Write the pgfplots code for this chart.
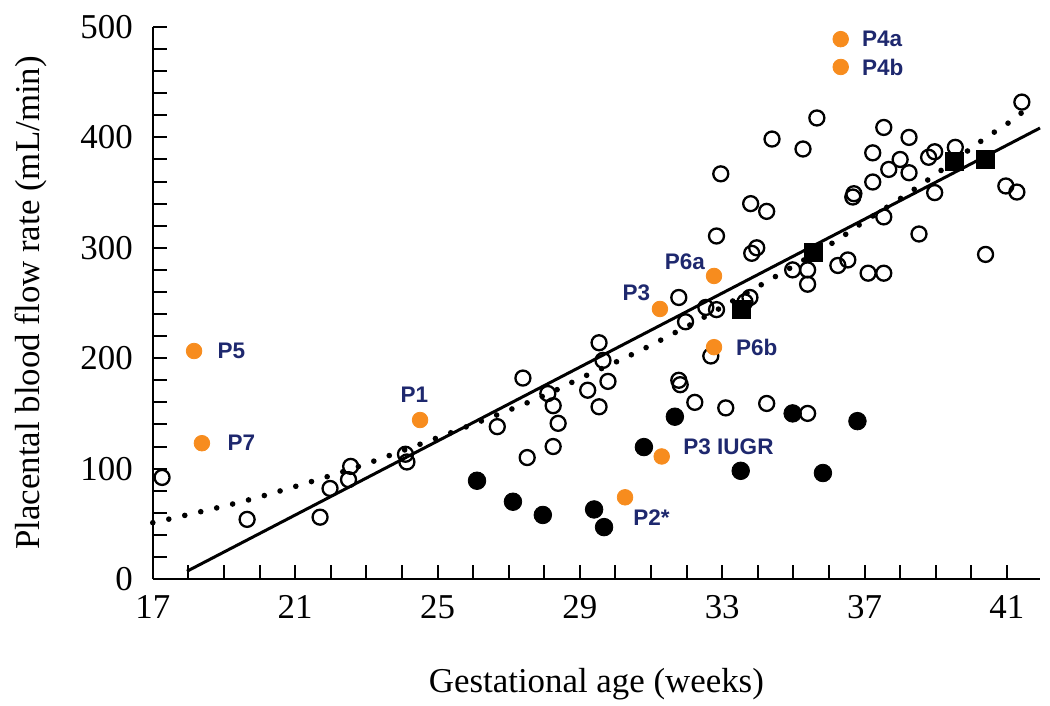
\documentclass[border=0pt]{standalone}
\usepackage{fontspec}
\setmainfont{Liberation Serif}
\newfontfamily\labfont{Liberation Sans}
\usepackage{pgfplots}
\pgfplotsset{compat=1.18}
\definecolor{porange}{RGB}{247,140,30}
\definecolor{pnavy}{RGB}{30,40,110}
\begin{document}
\begin{tikzpicture}
\begin{axis}[
 scale only axis, width=443.6bp, height=276bp,
 xmin=17, xmax=41.93, ymin=0, ymax=500,
 axis lines=left, axis line style={-, line width=1.2bp},
 xtick={17,21,...,41}, minor x tick num=3,
 ytick={0,100,...,500}, minor y tick num=4,
 tick align=inside,
 major tick length=7bp, minor tick length=7bp,
 every major tick/.append style={black, line width=1bp},
 every minor tick/.append style={black, line width=1bp},
 tick label style={font=\fontsize{17.5}{20}\selectfont},
 /pgf/number format/assume math mode=true,
 xticklabel style={yshift=-4.7bp},
 yticklabel style={xshift=-6.5bp},
 clip=false,
]
% open circles
\addplot[only marks, mark=o, mark size=3.75bp, mark options={line width=1.15bp, black}] coordinates {
(17.26,92) (19.65,54) (21.7,56) (21.98,82) (22.5,90) (22.56,102) (24.1,113) (24.14,106)
(26.68,138) (27.4,182) (27.52,110) (28.1,168) (28.25,157) (28.39,141) (28.25,120)
(29.22,171) (29.54,214) (29.65,198) (29.79,179) (29.54,156) (31.78,255) (32.54,246)
(32.84,244) (31.97,233) (32.68,202) (31.78,180) (31.82,176) (32.23,160) (33.1,155)
(32.96,367) (34.4,398.5) (35.27,389.5) (35.66,417.6) (32.84,310.7) (33.8,340) (34.25,333)
(33.83,295) (33.97,300) (33.78,255) (33.64,251) (34.98,280) (35.4,280) (35.4,267)
(36.25,284) (36.53,289) (37.1,277) (37.54,277) (36.67,346) (36.7,349) (37.23,359.6)
(37.23,386) (37.54,409) (37.68,371) (38.0,380) (38.25,400) (38.25,368) (37.54,328)
(38.8,382) (38.97,387) (39.55,391) (38.97,350) (38.53,312.5) (40.4,294) (40.97,356)
(41.28,350.5) (41.42,432) (34.25,159) (35.4,150)
};
% dotted fit
\addplot[black, line width=2.8bp, line cap=round, dash pattern=on 0pt off 8.2bp, smooth] coordinates {
(17.0,51) (17.46,54.3) (19.79,72.5) (22.57,99.6) (25.35,132.2) (27.23,155.8) (28.16,168.5)
(29.09,183) (30.02,196.6) (30.95,211) (31.9,227) (32.35,234.6) (34.23,269) (36.08,304)
(37.0,324) (37.93,343) (38.89,364) (40.29,397) (41.17,416) (41.65,429)
};
% solid fit
\addplot[black, line width=1.5bp] coordinates {(17.96,7) (41.93,408.5)};
% filled circles
\addplot[only marks, mark=*, mark size=4.4bp, mark options={black, fill=black}] coordinates {
(26.11,89) (27.12,70) (27.96,58) (29.4,63) (29.68,47) (30.8,119.5) (31.67,147)
(33.52,98) (34.98,150) (35.83,96) (36.8,143)
};
% squares
\addplot[only marks, mark=square*, mark size=4.5bp, mark options={black, fill=black}] coordinates {
(33.55,244.6) (35.55,296) (39.53,378) (40.4,380)
};
% orange patients
\addplot[only marks, mark=*, mark size=3.9bp, mark options={porange, fill=porange}] coordinates {
(18.16,206.5) (18.38,123) (24.51,144) (31.25,244.6) (32.77,274.5) (32.77,210)
(31.3,111) (30.27,74) (36.33,489) (36.33,463.8)
};
\begin{scope}[every node/.style={font=\labfont\bfseries\fontsize{11.3}{13}\selectfont, text=pnavy, inner sep=0pt}]
\node[anchor=west] at (axis cs:18.81,206.5) {P5};
\node[anchor=west] at (axis cs:19.09,123.2) {P7};
\node at (axis cs:24.35,166.7) {P1};
\node at (axis cs:30.59,259) {P3};
\node at (axis cs:31.95,287) {P6a};
\node[anchor=west] at (axis cs:33.38,210) {P6b};
\node[anchor=west] at (axis cs:31.9,119.6) {P3 IUGR};
\node[anchor=west] at (axis cs:30.49,55.3) {P2*};
\node[anchor=west] at (axis cs:36.92,489) {P4a};
\node[anchor=west] at (axis cs:36.92,463.8) {P4b};
\end{scope}
\end{axis}
\node[rotate=90, anchor=base, font=\fontsize{17.5}{20}\selectfont] at ([xshift=-56.4bp]current axis.west) {Placental blood flow rate (mL/min)};
\node[anchor=base, font=\fontsize{17.5}{20}\selectfont] at ([yshift=-56.5bp]current axis.south) {Gestational age (weeks)};
\pgfresetboundingbox
\path[use as bounding box] ([shift={(-76.4bp,-63.5bp)}]current axis.south west) rectangle ([shift={(5bp,13.5bp)}]current axis.north east);
\end{tikzpicture}
\end{document}
